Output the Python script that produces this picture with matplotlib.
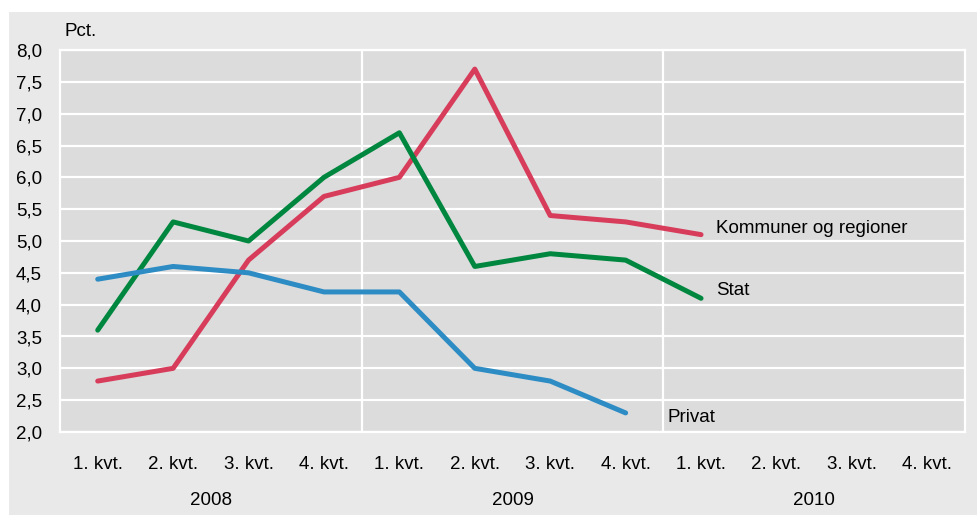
import matplotlib
matplotlib.use("Agg")
import matplotlib.pyplot as plt
from matplotlib.patches import Rectangle
from matplotlib.ticker import FuncFormatter

plt.rcParams['font.family'] = ['Liberation Sans', 'DejaVu Sans']

quarters = ['1. kvt.', '2. kvt.', '3. kvt.', '4. kvt.'] * 3
years = ['2008', '2009', '2010']
kommuner = [2.8, 3.0, 4.7, 5.7, 6.0, 7.7, 5.4, 5.3, 5.1]
stat = [3.6, 5.3, 5.0, 6.0, 6.7, 4.6, 4.8, 4.7, 4.1]
privat = [4.4, 4.6, 4.5, 4.2, 4.2, 3.0, 2.8, 2.3]

red = '#d83c5b'
green = '#00873f'
blue = '#2e8cc4'
fs = 13.5

W, H = 977, 515
fig = plt.figure(figsize=(W / 100, H / 100), dpi=100, facecolor='white')
# outer grey panel
fig.patches.append(Rectangle((9 / W, 0), 1 - 9 / W, 1 - 12 / H, transform=fig.transFigure,
                             facecolor='#e9e9e9', edgecolor='none', zorder=-5))

ax = fig.add_axes([60 / W, (H - 432) / H, 905 / W, 382 / H])
ax.set_zorder(2)
ax.set_facecolor('#dcdcdc')
for s in ax.spines.values():
    s.set_color('white')
    s.set_linewidth(1.6)

ax.set_xlim(-0.5, 11.5)
ax.set_ylim(2.0, 8.0)
ax.set_yticks([2.0 + 0.5 * i for i in range(13)])
ax.yaxis.set_major_formatter(FuncFormatter(lambda v, p: f'{v:.1f}'.replace('.', ',')))
ax.yaxis.grid(True, color='white', linewidth=1.6)
ax.set_axisbelow(True)
for xv in [3.5, 7.5]:
    ax.axvline(xv, color='white', linewidth=1.6, zorder=1)

ax.set_xticks(range(12))
ax.set_xticklabels(quarters)
ax.tick_params(axis='both', length=0, labelsize=fs)
ax.tick_params(axis='x', pad=17)
ax.tick_params(axis='y', pad=13)

lw = 3.6
ax.plot(range(len(kommuner)), kommuner, color=red, lw=lw, solid_capstyle='round', zorder=3)
ax.plot(range(len(stat)), stat, color=green, lw=lw, solid_capstyle='round', zorder=3)
ax.plot(range(len(privat)), privat, color=blue, lw=lw, solid_capstyle='round', zorder=3)

ax.text(8.2, 5.2, 'Kommuner og regioner', fontsize=fs, va='center', ha='left')
ax.text(8.2, 4.22, 'Stat', fontsize=fs, va='center', ha='left')
ax.text(7.55, 2.22, 'Privat', fontsize=fs, va='center', ha='left')

xt = ax.get_xaxis_transform()
for i, y in enumerate(years):
    ax.text(4 * i + 1.5, -0.18, y, transform=xt, fontsize=fs, ha='center', va='center')

ax.text(0.005, 1.025, 'Pct.', transform=ax.transAxes, fontsize=fs, ha='left', va='bottom')

fig.savefig('out.png', dpi=100, facecolor=fig.get_facecolor())
